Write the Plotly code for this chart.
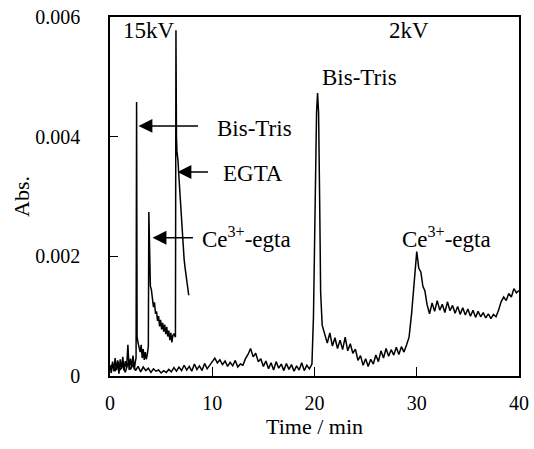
import plotly.graph_objects as go

# ---- 2 kV run (full 0-40 min) ----
t_2kv = [0.0, 0.25, 0.5, 0.75, 1.0, 1.25, 1.5, 1.75, 2.0, 2.25, 2.5, 2.75, 3.0, 3.25, 3.5, 3.75,
         4.0, 4.25, 4.5, 4.75, 5.0, 5.25, 5.5, 5.75, 6.0, 6.25, 6.5, 6.75, 7.0, 7.25, 7.5, 7.75,
         8.0, 8.25, 8.5, 8.75, 9.0, 9.25, 9.5, 9.75, 10.0, 10.25, 10.5, 10.75, 11.0, 11.25, 11.5, 11.75,
         12.0, 12.25, 12.5, 12.75, 13.0, 13.25, 13.5, 13.75, 14.0, 14.25, 14.5, 14.75, 15.0, 15.25, 15.5, 15.75,
         16.0, 16.25, 16.5, 16.75, 17.0, 17.25, 17.5, 17.75, 18.0, 18.25, 18.5, 18.75, 19.0, 19.25, 19.5, 19.75,
         19.9, 20.05, 20.2, 20.3, 20.4, 20.5, 20.6, 20.75,
         21.0, 21.25, 21.5, 21.75, 22.0, 22.25, 22.5, 22.75, 23.0, 23.25, 23.5, 23.75,
         24.0, 24.25, 24.5, 24.75, 25.0, 25.25, 25.5, 25.75, 26.0, 26.25, 26.5, 26.75,
         27.0, 27.25, 27.5, 27.75, 28.0, 28.25, 28.5, 28.75, 29.0, 29.25, 29.5, 29.75,
         30.0, 30.2, 30.4, 30.6, 30.8, 31.0, 31.25, 31.5, 31.75,
         32.0, 32.25, 32.5, 32.75, 33.0, 33.25, 33.5, 33.75, 34.0, 34.25, 34.5, 34.75,
         35.0, 35.25, 35.5, 35.75, 36.0, 36.25, 36.5, 36.75, 37.0, 37.25, 37.5, 37.75,
         38.0, 38.25, 38.5, 38.75, 39.0, 39.25, 39.5, 39.75, 40.0]
abs_2kv = [0.00012, 0.00020, 0.00008, 0.00026, 0.00010, 0.00018, 0.00006, 0.00022, 0.00011, 0.00019, 0.00009, 0.00016, 0.00007, 0.00015, 0.00009, 0.00013,
           0.00006, 0.00012, 0.00008, 0.00010, 0.00005, 0.00009, 0.00006, 0.00011, 0.00007, 0.00014, 0.00008, 0.00015, 0.00009, 0.00018, 0.00010, 0.00016,
           0.00008, 0.00020, 0.00011, 0.00017, 0.00009, 0.00021, 0.00012, 0.00018, 0.00024, 0.00030, 0.00022, 0.00027, 0.00019, 0.00025, 0.00016, 0.00023,
           0.00017, 0.00026, 0.00015, 0.00020, 0.00018, 0.00029, 0.00036, 0.00046, 0.00032, 0.00038, 0.00024, 0.00029, 0.00016, 0.00025, 0.00012, 0.00022,
           0.00010, 0.00024, 0.00013, 0.00020, 0.00009, 0.00021, 0.00011, 0.00019, 0.00008, 0.00017, 0.00010, 0.00022, 0.00009, 0.00018, 0.00012, 0.00020,
           0.00100, 0.00280, 0.00440, 0.00473, 0.00440, 0.00300, 0.00140, 0.00085,
           0.00070, 0.00055, 0.00072, 0.00050, 0.00064, 0.00046, 0.00060, 0.00044, 0.00065, 0.00042, 0.00054, 0.00038,
           0.00045, 0.00026, 0.00034, 0.00018, 0.00029, 0.00016, 0.00028, 0.00020, 0.00035, 0.00024, 0.00042, 0.00030,
           0.00046, 0.00033, 0.00044, 0.00035, 0.00048, 0.00036, 0.00049, 0.00040, 0.00052, 0.00065, 0.00105, 0.00155,
           0.00208, 0.00180, 0.00174, 0.00150, 0.00142, 0.00120, 0.00104, 0.00122, 0.00108,
           0.00126, 0.00110, 0.00120, 0.00106, 0.00124, 0.00109, 0.00118, 0.00105, 0.00116, 0.00103, 0.00114, 0.00102,
           0.00112, 0.00100, 0.00110, 0.00098, 0.00108, 0.00099, 0.00106, 0.00097, 0.00104, 0.00096, 0.00103, 0.00099,
           0.00110, 0.00124, 0.00132, 0.00126, 0.00138, 0.00132, 0.00146, 0.00139, 0.00143]

# ---- 15 kV run (0-7.7 min) ----
t_15kv = [0.0, 0.125, 0.25, 0.375, 0.5, 0.625, 0.75, 0.875, 1.0, 1.125, 1.25, 1.375, 1.5, 1.625, 1.75, 1.875,
          2.0, 2.125, 2.25, 2.375, 2.5, 2.55, 2.6, 2.65, 2.75, 2.85, 2.95, 3.05, 3.15, 3.25, 3.35, 3.45,
          3.55, 3.65, 3.75, 3.8, 3.85, 3.95, 4.05, 4.15, 4.25, 4.35, 4.45, 4.55, 4.65, 4.75, 4.85, 4.95,
          5.05, 5.15, 5.25, 5.35, 5.45, 5.55, 5.65, 5.75, 5.85, 5.95, 6.05, 6.15, 6.25, 6.4, 6.45, 6.5,
          6.55, 6.65, 6.75, 6.85, 6.95, 7.05, 7.15, 7.25, 7.35, 7.45, 7.55, 7.65, 7.7]
abs_15kv = [0.00018, 0.00005, 0.00024, 0.00008, 0.00030, 0.00010, 0.00022, 0.00004, 0.00028, 0.00012, 0.00032, 0.00009, 0.00025, 0.00014, 0.00052, 0.00010,
            0.00029, 0.00015, 0.00034, 0.00011, 0.00026, 0.00030, 0.00458, 0.00065, 0.00055, 0.00048, 0.00040, 0.00052, 0.00030, 0.00045, 0.00027, 0.00040,
            0.00028, 0.00036, 0.00050, 0.00274, 0.00200, 0.00150, 0.00144, 0.00132, 0.00115, 0.00123, 0.00104, 0.00108, 0.00092, 0.00100, 0.00083, 0.00094,
            0.00078, 0.00089, 0.00074, 0.00086, 0.00070, 0.00082, 0.00066, 0.00076, 0.00060, 0.00072, 0.00056, 0.00068, 0.00070, 0.00065, 0.00578, 0.00400,
            0.00375, 0.00360, 0.00330, 0.00300, 0.00270, 0.00245, 0.00220, 0.00195, 0.00180, 0.00165, 0.00150, 0.00140, 0.00135]

x_ticks = [0, 10, 20, 30, 40]
y_ticks = [0, 0.002, 0.004, 0.006]
y_tick_text = ["0", "0.002", "0.004", "0.006"]

FONT = "Liberation Serif"

fig = go.Figure()
fig.add_trace(go.Scatter(x=t_2kv, y=abs_2kv, mode="lines",
                         line=dict(color="black", width=1.5), showlegend=False))
fig.add_trace(go.Scatter(x=t_15kv, y=abs_15kv, mode="lines",
                         line=dict(color="black", width=1.5), showlegend=False))

txt = dict(font=dict(family=FONT, size=23, color="black"), showarrow=False)
# labels
fig.add_annotation(x=3.77, y=0.00578, text="15kV", xanchor="center", yanchor="middle", **txt)
fig.add_annotation(x=29.2, y=0.00578, text="2kV", xanchor="center", yanchor="middle", **txt)
fig.add_annotation(x=24.4, y=0.00499, text="Bis-Tris", xanchor="center", yanchor="middle", **txt)
fig.add_annotation(x=32.9, y=0.00232, text="Ce<sup>3+</sup>-egta", xanchor="center", yanchor="middle", **txt)
fig.add_annotation(x=10.22, y=0.00413, text="Bis-Tris", xanchor="left", yanchor="middle", **txt)
fig.add_annotation(x=10.9, y=0.00338, text="EGTA", xanchor="left", yanchor="middle", **txt)
fig.add_annotation(x=8.85, y=0.00232, text="Ce<sup>3+</sup>-egta", xanchor="left", yanchor="middle", **txt)

# arrows
arr = dict(text="", showarrow=True, arrowhead=2, arrowsize=1.85, arrowwidth=1.5,
           arrowcolor="black", axref="x", ayref="y", standoff=0, startstandoff=0)
fig.add_annotation(x=2.79, y=0.00418, ax=8.75, ay=0.00418, **arr)
fig.add_annotation(x=6.6, y=0.00341, ax=9.73, ay=0.00341, **arr)
fig.add_annotation(x=4.16, y=0.00231, ax=8.26, ay=0.00231, **arr)

fig.update_layout(
    width=534, height=449,
    margin=dict(l=110, r=15, t=17, b=73, autoexpand=False),
    paper_bgcolor="white", plot_bgcolor="white",
    font=dict(family=FONT, size=20, color="black"),
    xaxis=dict(range=[0, 40], tickvals=x_ticks, ticks="inside", ticklen=9, tickwidth=1,
               tickcolor="black", showline=True, linecolor="black", linewidth=1.5, mirror=True,
               showgrid=False, zeroline=False, ticklabelstandoff=8, ticklabeloverflow="allow",
               automargin=False,
               title=dict(text="Time / min", font=dict(size=22), standoff=0)),
    yaxis=dict(range=[0, 0.006], tickvals=y_ticks, ticktext=y_tick_text, ticks="inside", ticklen=8,
               tickwidth=1, tickcolor="black", showline=True, linecolor="black", linewidth=1.5,
               mirror=True, showgrid=False, zeroline=False, ticklabelstandoff=24,
               ticklabeloverflow="allow", automargin=False,
               title=dict(text="Abs.", font=dict(size=22), standoff=0)),
)

# remove the page's default 8px body margin so the 534x449 figure fills the window exactly
fig.write_html("out.html", config={"displayModeBar": False},
               post_script="document.body.style.margin='0';")
